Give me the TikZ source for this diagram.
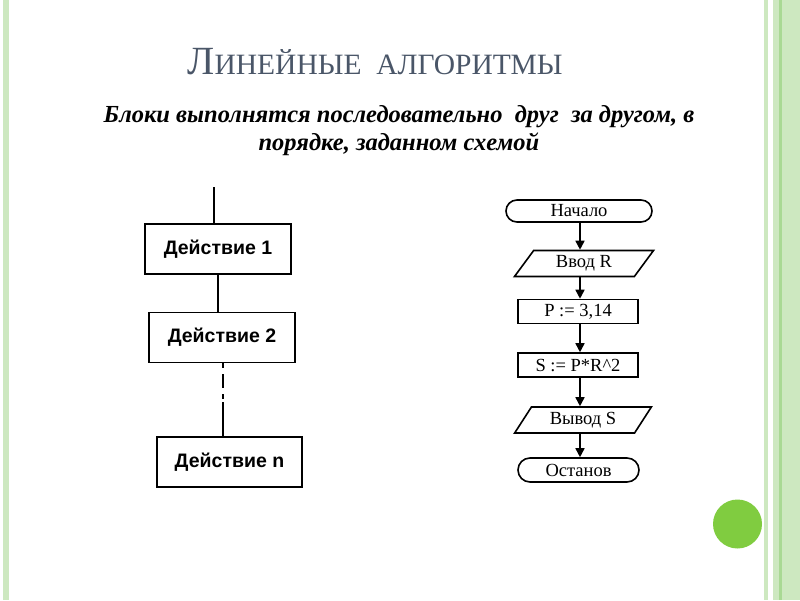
\documentclass[tikz,border=0pt]{standalone}
\usepackage{fontspec}
\setmainfont{Liberation Serif}
\newfontfamily\arialfont{Liberation Sans}
\usepackage{tikz}
\usetikzlibrary{arrows.meta, positioning, shapes.geometric, shapes.misc, calc}
\definecolor{ttlgray}{HTML}{4A5668}
\definecolor{stripelight}{HTML}{CDE8C0}
\definecolor{stripemid}{HTML}{A9D994}
\definecolor{dotgreen}{HTML}{80CC40}
\tikzset{
  actbox/.style={draw, line width=1.3pt, minimum width=146pt, minimum height=50pt,
                 font=\arialfont\bfseries\fontsize{19.5}{21}\selectfont, inner sep=2pt},
  termbox/.style={draw, line width=1.6pt, rounded rectangle, minimum height=22pt,
                  font=\fontsize{18.5}{20}\selectfont, inner sep=1pt},
  iobox/.style={draw, line width=1.6pt, trapezium, trapezium left angle=58,
                trapezium right angle=122, trapezium stretches=true,
                minimum height=26pt, font=\fontsize{18.5}{20}\selectfont, inner sep=1pt},
  opbox/.style={draw, line width=1.6pt, minimum width=120pt, minimum height=24pt,
                font=\fontsize{18.5}{20}\selectfont, inner sep=1pt},
  link/.style={line width=1.3pt},
  flow/.style={line width=1.6pt, -{Triangle[length=9pt,width=9pt]}},
}
\begin{document}
\begin{tikzpicture}[x=1pt, y=-1pt]
  \useasboundingbox (0,0) rectangle (800,600);
  % side stripes and dot
  \fill[stripelight] (3,0) rectangle (9,600);
  \fill[stripelight] (764,0) rectangle (768,600);
  \fill[stripelight] (773,0) rectangle (800,600);
  \fill[stripemid] (779,0) rectangle (782,600);
  \fill[dotgreen] (737.5,524) circle (24.5);

  % heading
  \node[anchor=base, text=ttlgray, inner sep=0] (title) at (375,74)
    {{\fontsize{40}{42}\selectfont Л}{\fontsize{29.5}{32}\selectfont ИНЕЙНЫЕ\ \ АЛГОРИТМЫ}};
  \node[align=center, font=\bfseries\itshape\fontsize{24.5}{28}\selectfont, inner sep=0] (sub) at (399,131)
    {Блоки выполнятся последовательно\ \ друг\ \ за другом, в\\ порядке, заданном схемой};

  % left chart
  \coordinate (top) at (214,187);
  \node[actbox] (a1) at (218,249) {Действие 1};
  \node[actbox] (a2) at (222,337.5) {Действие 2};
  \node[actbox, minimum width=145pt] (an) at (229.5,462) {Действие n};
  \coordinate (gap) at (223,402);

  \draw[link] (top) -- (top |- a1.north);
  \draw[link] (a1.south) -- (a1.south |- a2.north);
  \draw[link, dash pattern=on 5pt off 6pt on 14pt off 6pt on 5pt off 4pt] (gap |- a2.south) -- (gap);
  \draw[link] (gap) -- (gap |- an.north);

  % right chart
  \node[termbox, minimum width=148pt] (start) at (579,211) {Начало};
  \node[iobox, minimum width=140pt] (in) at (584,263.5) {Ввод R};
  \node[opbox] (pset) at (578,311.5) {P := 3,14};
  \node[opbox] (sset) at (578,365) {S := P*R\textasciicircum 2};
  \node[iobox, minimum width=137pt] (out) at (583,420) {Вывод S};
  \node[termbox, minimum width=123pt, minimum height=24pt] (stop) at (578.5,470) {Останов};

  \draw[flow] (start.south -| 580,0) -- (580,0 |- in.north);
  \draw[flow] (580,0 |- in.south) -- (580,0 |- pset.north);
  \draw[flow] (580,0 |- pset.south) -- (580,0 |- sset.north);
  \draw[flow] (580,0 |- sset.south) -- (580,0 |- out.north);
  \draw[flow] (580,0 |- out.south) -- (580,0 |- stop.north);
\end{tikzpicture}
\end{document}
